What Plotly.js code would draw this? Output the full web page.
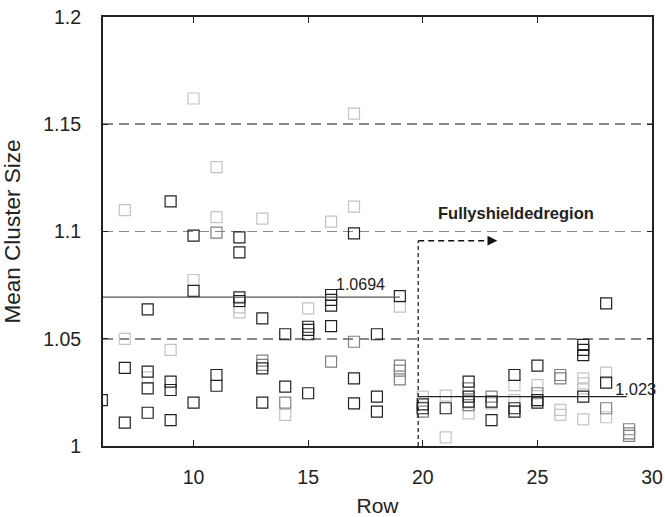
<!DOCTYPE html>
<html>
<head>
<meta charset="utf-8">
<script src="https://cdn.plot.ly/plotly-3.0.1.min.js"></script>
<style>html,body{margin:0;padding:0;background:#fff;}#chart{width:665px;height:517px;}</style>
</head>
<body>
<div id="chart"></div>
<script>
// Dark squares
const darkX = [6, 7,7, 8,8,8,8, 9,9,9,9, 10,10,10, 11,11, 12,12,12,12, 13,13,13, 14,14, 15,15,15,15, 16,16,16,16, 17,17,17, 18,18,18, 19, 20,20, 21, 22,22,22, 23,23, 24,24,24, 25,25,25, 27,27,27,27, 28,28];
const darkY = [1.0214, 1.0364,1.0109, 1.0637,1.0347,1.0269,1.0155, 1.114,1.0300,1.0261,1.0121, 1.0981,1.0723,1.0202, 1.0331,1.0281, 1.0973,1.0903,1.0693,1.0676, 1.0595,1.0362,1.0202, 1.0521,1.0277, 1.0556,1.0541,1.0521,1.0246, 1.0704,1.0681,1.0654,1.0559, 1.0991,1.0315,1.0199, 1.0521,1.0230,1.0160, 1.0699, 1.0194,1.0176, 1.0176, 1.0300,1.0230,1.0207, 1.0207,1.0121, 1.0331,1.0176,1.0160, 1.0375,1.0214,1.0202, 1.0471,1.0448,1.0424,1.0230, 1.0665,1.0295];
// Medium gray squares
const midX = [11, 13,13, 14, 16, 17, 19,19,19, 20, 22,22, 23, 25, 26,26, 28, 29,29,29];
const midY = [1.0995, 1.0398,1.0378, 1.0202, 1.0393, 1.0486, 1.0375,1.0351,1.0311, 1.0160, 1.0269,1.0191, 1.0230, 1.0246, 1.0331,1.0315, 1.0176, 1.0078,1.0059,1.0047];
// Light gray squares
const lightX = [7,7, 8, 9, 10,10, 11,11, 12,12, 13, 14, 15, 16, 17,17, 19, 20, 21,21, 22, 23, 24,24, 25, 26,26, 27,27,27,27, 28,28];
const lightY = [1.110,1.0499, 1.0320, 1.0448, 1.162,1.0774, 1.130,1.1067, 1.0646,1.0623, 1.106, 1.0145, 1.0642, 1.1046, 1.155,1.1116, 1.0650, 1.0230, 1.0235,1.0040, 1.0152, 1.0199, 1.0284,1.0214, 1.0284, 1.0168,1.0145, 1.0315,1.0292,1.0269,1.0124, 1.0342,1.0134];

const leftMean = 1.0694;
const rightMean = 1.023;
const xTicks = [10, 15, 20, 25, 30];
const yTicks = [1, 1.05, 1.1, 1.15, 1.2];

const FONT = 'Liberation Sans, Arial, sans-serif';
function sq(x, y, color) {
  return {x: x, y: y, type: 'scatter', mode: 'markers', showlegend: false,
    marker: {symbol: 'square-open', size: 11, color: color, line: {width: 1.2, color: color}}};
}
const data = [sq(lightX, lightY, '#c4c4c4'), sq(midX, midY, '#808080'), sq(darkX, darkY, '#222222')];

const layout = {
  width: 665, height: 517,
  margin: {l: 103, r: 13, t: 17, b: 71},
  paper_bgcolor: '#fff', plot_bgcolor: '#fff',
  font: {family: FONT, color: '#222', size: 19.5},
  xaxis: {range: [6.05, 30], tickvals: xTicks, ticktext: xTicks.map(String),
    ticks: 'inside', ticklen: 6, tickcolor: '#222', mirror: 'ticks', showline: true, linecolor: '#222', linewidth: 2,
    showgrid: false, zeroline: false, ticklabelstandoff: 13, tickfont: {size: 19.5},
    title: {text: 'Row', font: {size: 21}}},
  yaxis: {range: [1, 1.2], tickvals: yTicks, ticktext: ['1', '1.05', '1.1', '1.15', '1.2'],
    ticks: 'inside', ticklen: 5, tickcolor: '#222', mirror: 'ticks', showline: true, linecolor: '#222', linewidth: 2,
    showgrid: true, gridcolor: '#888', gridwidth: 1.6, griddash: '10px,6px', zeroline: false, ticklabelstandoff: 16, tickfont: {size: 19.5},
    title: {text: 'Mean Cluster Size', font: {size: 22.5}, standoff: 20}},
  shapes: [
    {type: 'line', xref: 'x', yref: 'y', x0: 6.05, x1: 19, y0: leftMean, y1: leftMean, line: {color: '#555', width: 1.3}},
    {type: 'line', xref: 'x', yref: 'y', x0: 19.8, x1: 28.9, y0: rightMean, y1: rightMean, line: {color: '#222', width: 1.3}},
    {type: 'line', xref: 'x', yref: 'y', x0: 19.8, x1: 19.8, y0: 1, y1: 1.0957, line: {color: '#111', width: 1.2, dash: '4px,3px'}},
    {type: 'line', xref: 'x', yref: 'y', x0: 19.8, x1: 22.9, y0: 1.0957, y1: 1.0957, line: {color: '#111', width: 1.5, dash: '6px,4px'}}
  ],
  annotations: [
    {x: 23.25, y: 1.0957, xref: 'x', yref: 'y', ax: 22.8, ay: 1.0957, axref: 'x', ayref: 'y', text: '', showarrow: true,
      arrowhead: 2, arrowsize: 1.3, arrowwidth: 1.5, arrowcolor: '#111'},
    {x: 24.05, y: 1.1085, xref: 'x', yref: 'y', text: '<b>Fullyshieldedregion</b>', showarrow: false,
      font: {family: FONT, size: 16.5, color: '#222'}},
    {x: 17.27, y: 1.0751, xref: 'x', yref: 'y', text: '1.0694', showarrow: false,
      font: {family: FONT, size: 16, color: '#222'}},
    {x: 29.3, y: 1.0264, xref: 'x', yref: 'y', text: '1.023', showarrow: false,
      font: {family: FONT, size: 16.5, color: '#222'}}
  ]
};

Plotly.newPlot('chart', data, layout, {displayModeBar: false, staticPlot: true});
</script>
</body>
</html>
